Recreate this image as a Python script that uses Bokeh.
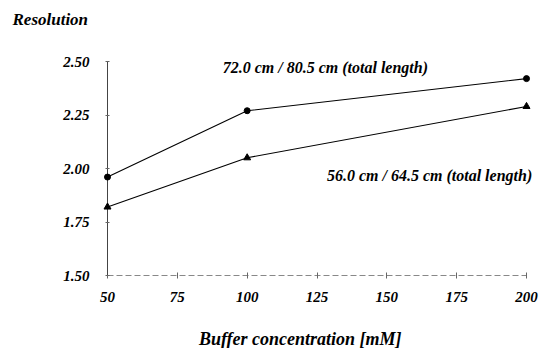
from bokeh.plotting import figure
from bokeh.models import FixedTicker, NumeralTickFormatter, Range1d
from bokeh.core.properties import value
from bokeh.embed import file_html
from bokeh.resources import INLINE

# data
buffer_mM = [50, 100, 200]
res_72cm = [1.96, 2.27, 2.42]
res_56cm = [1.82, 2.05, 2.29]
x_ticks = [50, 75, 100, 125, 150, 175, 200]
y_ticks = [1.50, 1.75, 2.00, 2.25, 2.50]
label_72 = "72.0 cm / 80.5 cm (total length)"
label_56 = "56.0 cm / 64.5 cm (total length)"
y_title = "Resolution"
x_title = "Buffer concentration [mM]"

FONT = "Liberation Serif"

p = figure(width=539, height=348, output_backend="svg", toolbar_location=None,
           x_range=Range1d(x_ticks[0], x_ticks[-1]),
           y_range=Range1d(y_ticks[0], y_ticks[-1]),
           min_border_left=107, min_border_right=13, min_border_top=61,
           min_border_bottom=73)
p.outline_line_color = None
p.xgrid.visible = False
p.ygrid.visible = False

# axes
for ax in (p.xaxis[0], p.yaxis[0]):
    ax.major_label_text_font = FONT
    ax.major_label_text_font_style = "bold italic"
    ax.major_label_text_font_size = "15px"
    ax.major_label_text_color = "black"
    ax.minor_tick_line_color = None

p.xaxis.ticker = FixedTicker(ticks=x_ticks)
p.yaxis.ticker = FixedTicker(ticks=y_ticks)
p.yaxis.formatter = NumeralTickFormatter(format="0.00")

p.yaxis.axis_line_color = "#444444"
p.yaxis.axis_line_width = 1
p.yaxis.major_tick_line_color = "#666666"
p.yaxis.major_tick_in = 2
p.yaxis.major_tick_out = 2
p.yaxis.major_label_standoff = 16

p.xaxis.axis_line_color = "#888888"
p.xaxis.axis_line_dash = "6 3"
p.xaxis.major_tick_line_color = "#666666"
p.xaxis.major_tick_in = 3
p.xaxis.major_tick_out = 3
p.xaxis.major_label_standoff = 13

# series (overlay level so nothing is clipped at the frame edge)
r = [
    p.line(buffer_mM, res_72cm, line_color="black", line_width=1.1),
    p.scatter(buffer_mM, res_72cm, marker="circle", size=6, color="black"),
    p.line(buffer_mM, res_56cm, line_color="black", line_width=1.1),
    p.scatter(buffer_mM, res_56cm, marker="triangle", size=7, color="black"),
]

texts = [
    # text, x, y, x_offset, y_offset (px, down positive), size, align
    (label_72, 128.0, 2.47, 0, 0, "16px", "center"),
    (label_56, 165.3, 1.968, 0, 0, "16px", "center"),
    (y_title, x_ticks[0], y_ticks[-1], -95, -42, "17px", "left"),
    (x_title, 119.0, y_ticks[0], 0, 63, "18px", "center"),
]
for txt, xx, yy, xo, yo, fs, al in texts:
    r.append(p.text(x=[xx], y=[yy], text=[txt], x_offset=xo, y_offset=yo,
                    text_font=value(FONT), text_font_style="bold italic",
                    text_font_size=fs, text_align=al,
                    text_baseline="middle", text_color="black"))
for rr in r:
    rr.level = "overlay"

open("out.html", "w").write(file_html(p, INLINE))
